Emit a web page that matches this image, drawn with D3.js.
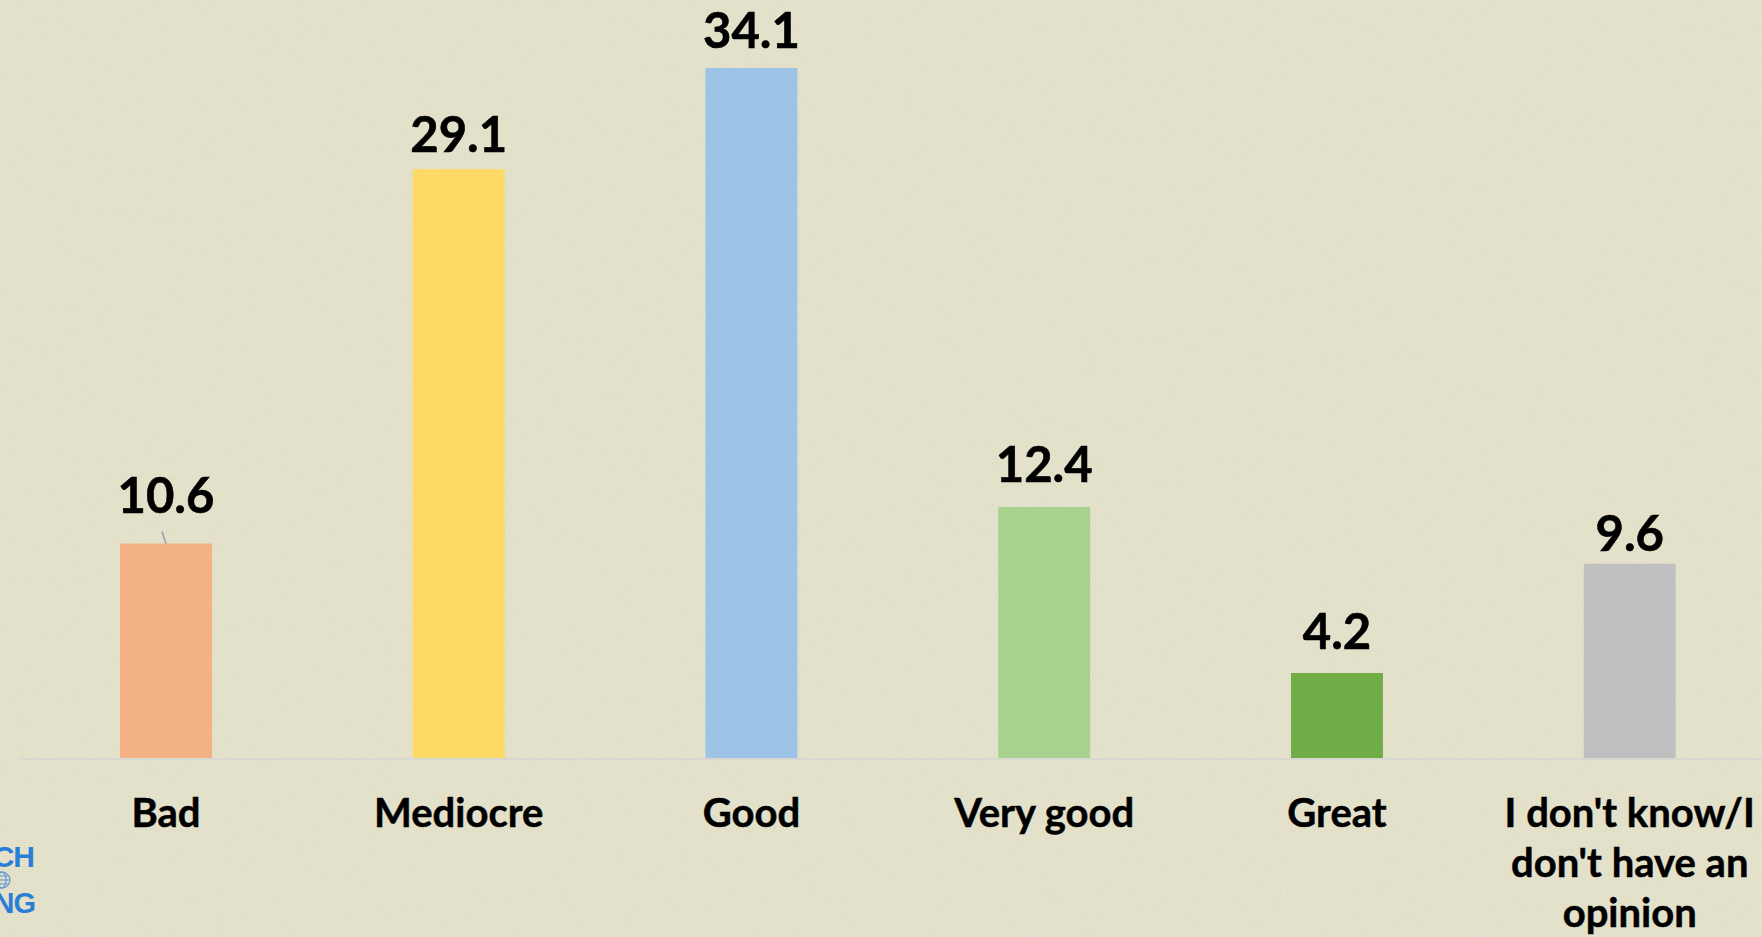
<!DOCTYPE html>
<html>
<head>
<meta charset="utf-8">
<script src="https://cdn.jsdelivr.net/npm/d3@7"></script>
<style>
  html, body { margin: 0; padding: 0; overflow: hidden; background: #e5e3cb; }
  svg { display: block; }
</style>
</head>
<body>
<svg id="chart" width="1762" height="937"></svg>
<script>
// Survey answers and their shares (%)
const categories = ["Bad", "Mediocre", "Good", "Very good", "Great", "I don't know/I don't have an opinion"];
const values = [10.6, 29.1, 34.1, 12.4, 4.2, 9.6];
const barColors = ["#F4B183", "#FFD966", "#9DC3E6", "#A9D18E", "#70AD47", "#BFBFBF"];

const W = 1762, H = 937;
const svg = d3.select("#chart");

// Beige paper background with a fine grain
const defs = svg.append("defs");
const grain = defs.append("filter").attr("id", "grain").attr("x", 0).attr("y", 0).attr("width", "100%").attr("height", "100%");
grain.append("feTurbulence").attr("type", "fractalNoise").attr("baseFrequency", 0.9).attr("numOctaves", 2).attr("seed", 4).attr("result", "n");
grain.append("feColorMatrix").attr("in", "n").attr("type", "matrix")
  .attr("values", "0 0 0 0 0.45  0 0 0 0 0.43  0 0 0 0 0.33  0 0 0 0.9 -0.25");
svg.append("rect").attr("width", W).attr("height", H).attr("fill", "#e6e4cd");
svg.append("rect").attr("width", W).attr("height", H).attr("filter", "url(#grain)").attr("opacity", 0.3);

// Scales: equal slots across the plot, bars about a third of each slot
const step = 292.75, x0 = 19.6;
const x = d3.scaleBand()
  .domain(categories)
  .range([x0, x0 + step * categories.length])
  .paddingInner(0.686)
  .paddingOuter(0.343);

const baseY = 758;
const y = d3.scaleLinear().domain([0, 37]).range([baseY, baseY - 37 * 20.235]);

const data = categories.map((c, i) => ({ cat: c, value: values[i], color: barColors[i] }));

// Bars
svg.append("g").selectAll("rect").data(data).join("rect")
  .attr("x", d => x(d.cat))
  .attr("y", d => y(d.value))
  .attr("width", x.bandwidth())
  .attr("height", d => y(0) - y(d.value))
  .attr("fill", d => d.color);

// Category axis baseline
svg.append("line")
  .attr("x1", 21).attr("x2", W)
  .attr("y1", baseY + 1).attr("y2", baseY + 1)
  .attr("stroke", "#d9d8d0").attr("stroke-width", 2.2);

// Value labels (a few lifted or lowered slightly for legibility)
const lift = { "Bad": 11, "Mediocre": -3, "Good": 0, "Very good": 5, "Great": 4 };
const labelFont = "Lato, 'Open Sans', sans-serif";
svg.append("g").selectAll("text").data(data).join("text")
  .attr("x", d => x(d.cat) + x.bandwidth() / 2)
  .attr("y", d => y(d.value) - 20 - (lift[d.cat] !== undefined ? lift[d.cat] : -7))
  .attr("text-anchor", "middle")
  .attr("font-family", labelFont)
  .attr("font-weight", 700)
  .attr("font-size", 49)
  .attr("fill", "#000")
  .attr("stroke", "#000").attr("stroke-width", 0.6)
  .text(d => d.value.toFixed(1));

// Leader line for the lifted "Bad" label
const bad = data[0];
svg.append("line")
  .attr("x1", x(bad.cat) + x.bandwidth() / 2 - 4).attr("y1", y(bad.value) - 12)
  .attr("x2", x(bad.cat) + x.bandwidth() / 2).attr("y2", y(bad.value))
  .attr("stroke", "#9a9ca8").attr("stroke-width", 1.5);

// Category labels, wrapped to the slot width
const catG = svg.append("g");
data.forEach(d => {
  const cx = x(d.cat) + x.bandwidth() / 2;
  const t = catG.append("text")
    .attr("x", cx)
    .attr("y", 827)
    .attr("text-anchor", "middle")
    .attr("font-family", labelFont)
    .attr("font-weight", 700)
    .attr("font-size", 40)
    .attr("fill", "#000")
    .attr("stroke", "#000").attr("stroke-width", 0.5);
  const words = d.cat.split(" ");
  let line = [];
  let ts = t.append("tspan").attr("x", cx).attr("dy", 0);
  words.forEach(w => {
    line.push(w);
    ts.text(line.join(" "));
    if (ts.node().getComputedTextLength() > 275 && line.length > 1) {
      line.pop();
      ts.text(line.join(" "));
      line = [w];
      ts = t.append("tspan").attr("x", cx).attr("dy", 50).text(w);
    }
  });
});

// Partial logo at the lower-left edge
const logo = svg.append("g").attr("fill", "#2a7ed6");
logo.append("text").attr("x", 34).attr("y", 867).attr("text-anchor", "end")
  .attr("font-family", "'Liberation Sans', Arial, sans-serif").attr("font-weight", 700)
  .attr("font-size", 30).attr("letter-spacing", -1).text("CH");
logo.append("text").attr("x", 35).attr("y", 913).attr("text-anchor", "end")
  .attr("font-family", "'Liberation Sans', Arial, sans-serif").attr("font-weight", 700)
  .attr("font-size", 29).attr("letter-spacing", -1).text("NG");
const globe = svg.append("g").attr("fill", "none").attr("stroke", "#6f9fcf").attr("stroke-width", 1.3);
globe.append("circle").attr("cx", 2).attr("cy", 880).attr("r", 8);
globe.append("line").attr("x1", -6).attr("x2", 10).attr("y1", 880).attr("y2", 880);
globe.append("line").attr("x1", -5).attr("x2", 9).attr("y1", 876).attr("y2", 876);
globe.append("line").attr("x1", -5).attr("x2", 9).attr("y1", 884).attr("y2", 884);
globe.append("ellipse").attr("cx", 2).attr("cy", 880).attr("rx", 4).attr("ry", 8);
</script>
</body>
</html>
